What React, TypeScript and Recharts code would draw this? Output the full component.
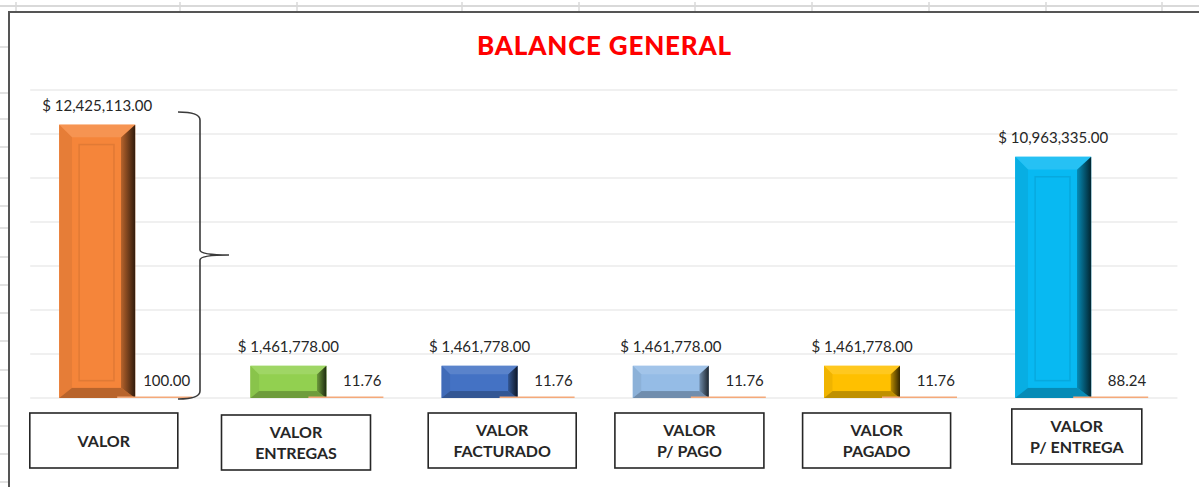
import { Bar, BarChart, CartesianGrid, LabelList, XAxis, YAxis } from "recharts";

const categorias = [
  "VALOR",
  "VALOR\nENTREGAS",
  "VALOR\nFACTURADO",
  "VALOR\nP/ PAGO",
  "VALOR\nPAGADO",
  "VALOR\nP/ ENTREGA",
];
const montos = [12425113, 1461778, 1461778, 1461778, 1461778, 10963335];
const porcentajes = [100, 11.76, 11.76, 11.76, 11.76, 88.24];
const yTicks = [0, 2000000, 4000000, 6000000, 8000000, 10000000, 12000000, 14000000];

const barColors = ["#F5853A", "#92D050", "#4472C4", "#95BCE6", "#FFC000", "#08B9F2"];
// nudges for the hand-placed label boxes under each category
const boxShift = [-22, -21, -6, -10, -14, -5];
const boxTop = [15, 17, 15, 15, 15, 11];
const boxWidth = [148, 149, 148, 149, 148, 130];

// spreadsheet cells behind the chart object
const colLines = [16, 180, 297, 462, 579, 695, 812, 929, 1046, 1162];
const rowLines = [47, 93, 119, 147, 178, 206, 228, 257, 285, 313, 341, 370, 398, 426, 454, 482];

const FONT = "Lato, 'Open Sans', sans-serif";

const data = categorias.map((c, i) => ({
  categoria: c,
  monto: montos[i],
  porcentaje: porcentajes[i],
}));

function mix(hex: string, target: number, amt: number) {
  const n = parseInt(hex.slice(1), 16);
  const ch = [(n >> 16) & 255, (n >> 8) & 255, n & 255].map((v) =>
    Math.round(v + (target - v) * amt)
  );
  return `rgb(${ch[0]},${ch[1]},${ch[2]})`;
}

function BevelBar(props: any) {
  const { x, y, width, height, index } = props;
  if (!(height > 0) || !(width > 0)) return null;
  const base = barColors[index % barColors.length];
  const b = Math.max(2, Math.min(13, height * 0.27, width * 0.17));
  const br = b * 1.1;
  const x2 = x + width;
  const y2 = y + height;
  const ix = x + b;
  const ix2 = x2 - br;
  const iy = y + b;
  const iy2 = y2 - b * 0.8;
  const gid = `rg${index}`;
  const inset = 7;
  return (
    <g>
      <defs>
        <linearGradient id={gid} x1="0" y1="0" x2="1" y2="0">
          <stop offset="0" stopColor={mix(base, 0, 0.25)} />
          <stop offset="1" stopColor={mix(base, 0, 0.8)} />
        </linearGradient>
      </defs>
      <rect x={x} y={y} width={width} height={height} fill={base} />
      <polygon points={`${x},${y} ${x2},${y} ${ix2},${iy} ${ix},${iy}`} fill={mix(base, 255, 0.12)} />
      <polygon points={`${x},${y} ${ix},${iy} ${ix},${iy2} ${x},${y2}`} fill={mix(base, 0, 0.06)} />
      <polygon points={`${x},${y2} ${ix},${iy2} ${ix2},${iy2} ${x2},${y2}`} fill={mix(base, 0, 0.25)} />
      <polygon points={`${x2},${y} ${x2},${y2} ${ix2},${iy2} ${ix2},${iy}`} fill={`url(#${gid})`} />
      <rect x={ix} y={iy} width={ix2 - ix} height={iy2 - iy} fill={base} />
      {height > 60 && (
        <rect
          x={ix + inset}
          y={iy + inset}
          width={Math.max(0, ix2 - ix - inset * 2)}
          height={Math.max(0, iy2 - iy - inset * 2)}
          fill="none"
          stroke={mix(base, 0, 0.12)}
          strokeWidth={1.5}
          opacity={0.7}
        />
      )}
    </g>
  );
}

function CategoryBox(props: any) {
  const { x, y, payload, index } = props;
  const lines = String(payload.value).split("\n");
  const w = boxWidth[index];
  const cx = x + boxShift[index];
  const top = y + boxTop[index];
  const h = 55;
  const lh = 21;
  const firstY = top + h / 2 - ((lines.length - 1) * lh) / 2 + 6;
  return (
    <g>
      <rect x={cx - w / 2} y={top} width={w} height={h} fill="#fff" stroke="#262626" strokeWidth={1.6} />
      {lines.map((t, i) => (
        <text
          key={i}
          x={cx}
          y={firstY + i * lh}
          textAnchor="middle"
          fontFamily={FONT}
          fontWeight={700}
          fontSize={16}
          fill="#262626"
        >
          {t}
        </text>
      ))}
    </g>
  );
}

const money = (v: any) =>
  "$ " + Number(v).toLocaleString("en-US", { minimumFractionDigits: 2, maximumFractionDigits: 2 });

function MoneyLabel(props: any) {
  const { x, y, width, value } = props;
  return (
    <text x={x + width / 2} y={y - 14} textAnchor="middle" fontFamily={FONT} fontSize={15} fill="#262626">
      {money(value)}
    </text>
  );
}

function PctLabel(props: any) {
  const { x, y, width, height, value } = props;
  return (
    <text
      x={x + width - 2}
      y={y + height - 12}
      textAnchor="end"
      fontFamily={FONT}
      fontSize={15}
      fill="#262626"
    >
      {Number(value).toFixed(2)}
    </text>
  );
}

export default function App() {
  return (
    <div style={{ position: "absolute", left: 0, top: 0, width: 1199, height: 487, background: "#fff", overflow: "hidden", fontFamily: FONT }}>
      <svg width={1199} height={487} style={{ position: "absolute", left: 0, top: 0 }}>
        <line x1={0} x2={1199} y1={6} y2={6} stroke="#d9d9d9" strokeWidth={2} />
        {colLines.map((cx) => (
          <line key={cx} x1={cx} x2={cx} y1={2} y2={11} stroke="#d9d9d9" strokeWidth={1.5} />
        ))}
        {rowLines.map((ry) => (
          <line key={ry} x1={0} x2={8} y1={ry} y2={ry} stroke="#d9d9d9" strokeWidth={1.5} />
        ))}
      </svg>
      <div
        style={{
          position: "absolute",
          left: 8,
          top: 11,
          width: 1200,
          height: 490,
          borderLeft: "2px solid #555",
          borderTop: "2px solid #555",
          background: "#fff",
        }}
      />
      <div
        style={{
          position: "absolute",
          left: 0,
          top: 29,
          width: 1209,
          textAlign: "center",
          color: "#FF0000",
          fontWeight: 900,
          fontSize: 26,
          letterSpacing: 0.8,
          fontFamily: FONT,
        }}
      >
        BALANCE GENERAL
      </div>
      <div style={{ position: "absolute", left: 0, top: 0 }}>
        <BarChart
          width={1199}
          height={487}
          data={data}
          margin={{ top: 90, right: 21.6, left: 30.2, bottom: 9 }}
          barGap={-18}
        >
          <CartesianGrid vertical={false} stroke="#ebebeb" strokeWidth={1.5} />
          <YAxis hide width={0} domain={[0, 14000000]} ticks={yTicks} />
          <XAxis
            dataKey="categoria"
            height={80}
            axisLine={false}
            tickLine={false}
            tickSize={0}
            tickMargin={0}
            interval={0}
            tick={<CategoryBox />}
          />
          <Bar dataKey="monto" barSize={76} shape={<BevelBar />} isAnimationActive={false}>
            <LabelList dataKey="monto" content={<MoneyLabel />} />
          </Bar>
          <Bar dataKey="porcentaje" barSize={75} fill="#F4A97A" minPointSize={1.5} isAnimationActive={false}>
            <LabelList dataKey="porcentaje" content={<PctLabel />} />
          </Bar>
        </BarChart>
      </div>
      <svg width={1199} height={487} style={{ position: "absolute", left: 0, top: 0, pointerEvents: "none" }}>
        <path
          d="M178,112 Q200,112 200,120 L200,250 Q200,255 229,255 Q200,255 200,260 L200,391 Q200,399 178,399"
          fill="none"
          stroke="#3a3a3a"
          strokeWidth={1.6}
        />
      </svg>
    </div>
  );
}
